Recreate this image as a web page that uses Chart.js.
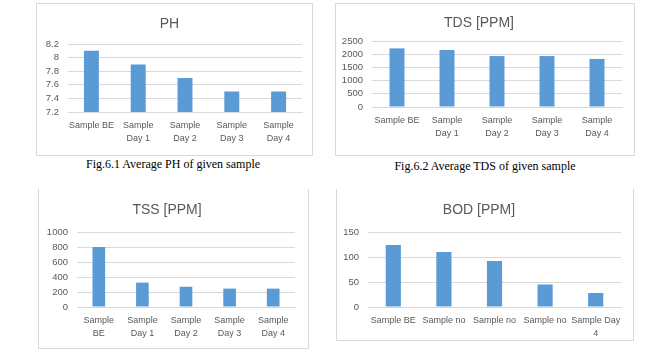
<!DOCTYPE html>
<html>
<head>
<meta charset="utf-8">
<script src="https://cdn.jsdelivr.net/npm/chart.js@4.4.0/dist/chart.umd.min.js"></script>
<style>
body { margin: 0; background: #fff; width: 648px; height: 353px; overflow: hidden; position: relative; }
.box { position: absolute; border: 1px solid #d9d9d9; box-sizing: border-box; }
.box canvas { position: absolute; left: 0; top: 0; }
.cap { position: absolute; width: 300px; text-align: center; white-space: nowrap;
       font-family: "Liberation Serif", "Times New Roman", serif; font-size: 12px; line-height: 16px; color: #000; }
</style>
</head>
<body>
<div class="box" style="left:36px;top:3px;width:277px;height:153px"><canvas id="phChart" width="275" height="151"></canvas></div>
<div class="cap" style="left:23px;top:156px">Fig.6.1 Average PH of given sample</div>

<div class="box" style="left:335px;top:3px;width:300px;height:153px"><canvas id="tdsChart" width="298" height="151"></canvas></div>
<div class="cap" style="left:335px;top:158px">Fig.6.2 Average TDS of given sample</div>

<div class="box" style="left:38px;top:189px;width:271px;height:160px;border-top:none"><canvas id="tssChart" width="269" height="159"></canvas></div>

<div class="box" style="left:336px;top:189px;width:298px;height:152px;border-top:none"><canvas id="bodChart" width="296" height="152"></canvas></div>

<script>
// chart data
const phLabels = ['Sample BE', ['Sample', 'Day 1'], ['Sample', 'Day 2'], ['Sample', 'Day 3'], ['Sample', 'Day 4']];
const phValues = [8.1, 7.9, 7.7, 7.5, 7.5];
const phTicks = [7.2, 7.4, 7.6, 7.8, 8, 8.2];

const tdsLabels = ['Sample BE', ['Sample', 'Day 1'], ['Sample', 'Day 2'], ['Sample', 'Day 3'], ['Sample', 'Day 4']];
const tdsValues = [2220, 2160, 1930, 1930, 1820];
const tdsTicks = [0, 500, 1000, 1500, 2000, 2500];

const tssLabels = [['Sample', 'BE'], ['Sample', 'Day 1'], ['Sample', 'Day 2'], ['Sample', 'Day 3'], ['Sample', 'Day 4']];
const tssValues = [800, 325, 270, 245, 245];
const tssTicks = [0, 200, 400, 600, 800, 1000];

const bodLabels = ['Sample BE', 'Sample no', 'Sample no', 'Sample no', ['Sample Day', '4']];
const bodValues = [124, 110, 92, 45, 28];
const bodTicks = [0, 50, 100, 150];

const textColor = '#595959';
const gridColor = '#d9d9d9';
const barColor = '#5b9bd5';
const fontFamily = '"Liberation Sans", Arial, sans-serif';

// builds one excel-style column chart; g holds the plot area layout
function makeChart(id, title, labels, values, ticks, g) {
    const ctx = document.getElementById(id).getContext('2d');
    return new Chart(ctx, {
        type: 'bar',
        data: {
            labels: labels,
            datasets: [{
                data: values,
                backgroundColor: barColor,
                categoryPercentage: 1,
                barPercentage: g.bar
            }]
        },
        options: {
            responsive: false,
            animation: false,
            layout: { padding: { left: 0, right: g.right, top: 0, bottom: 0 } },
            plugins: {
                legend: { display: false },
                tooltip: { enabled: false },
                title: {
                    display: true,
                    text: title,
                    color: textColor,
                    font: { family: fontFamily, size: 14, weight: 'normal', lineHeight: 1.2 },
                    padding: { top: g.titleTop, bottom: g.top - g.titleTop - 16.8 }
                }
            },
            scales: {
                x: {
                    grid: { display: false, drawTicks: false },
                    border: { display: true, color: gridColor },
                    ticks: {
                        color: textColor,
                        maxRotation: 0,
                        autoSkip: false,
                        padding: 7,
                        font: { family: fontFamily, size: 9, lineHeight: 1.45 }
                    },
                    afterFit: s => { s.height = g.xh; }
                },
                y: {
                    min: ticks[0],
                    max: ticks[ticks.length - 1],
                    grid: { color: gridColor, drawTicks: false },
                    border: { display: false },
                    ticks: {
                        color: textColor,
                        padding: 9,
                        autoSkip: false,
                        font: { family: fontFamily, size: 9.5 },
                        callback: v => String(Math.round(v * 100) / 100)
                    },
                    afterBuildTicks: s => { s.ticks = ticks.map(v => ({ value: v })); },
                    afterFit: s => { s.width = g.left; }
                }
            }
        }
    });
}

makeChart('phChart', 'PH', phLabels, phValues, phTicks,
    { left: 31, right: 10, top: 40, titleTop: 11.6, xh: 43, bar: 0.32 });
makeChart('tdsChart', 'TDS [PPM]', tdsLabels, tdsValues, tdsTicks,
    { left: 36, right: 12, top: 37, titleTop: 10.6, xh: 48, bar: 0.3 });
makeChart('tssChart', 'TSS [PPM]', tssLabels, tssValues, tssTicks,
    { left: 38, right: 13, top: 43, titleTop: 12.6, xh: 41, bar: 0.29 });
makeChart('bodChart', 'BOD [PPM]', bodLabels, bodValues, bodTicks,
    { left: 31, right: 12, top: 43, titleTop: 12.6, xh: 34, bar: 0.3 });
</script>
</body>
</html>
